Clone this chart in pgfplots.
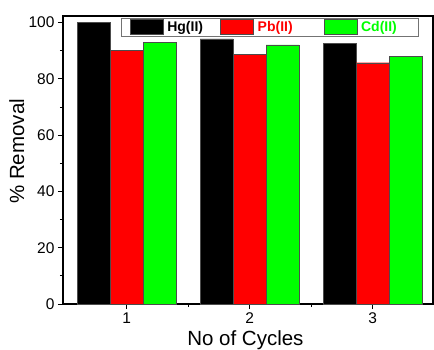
\documentclass[border=0pt]{standalone}
\usepackage{pgfplots}
\pgfplotsset{compat=1.18}
\usepackage{fontspec}
\setmainfont{Liberation Sans}
\definecolor{mygreen}{RGB}{0,255,0}
\definecolor{myred}{RGB}{255,0,0}
\begin{document}
\begin{tikzpicture}
\useasboundingbox (-63pt,-45pt) rectangle (371pt,304pt);
\begin{axis}[
  at={(0,0)}, anchor=south west,
  scale only axis, width=370pt, height=288pt,
  xmin=0.482, xmax=3.49, ymin=0, ymax=102.3,
  ybar=0pt, bar width=33pt,
  xtick={1,2,3}, minor xtick={1.5,2.5},
  ytick={0,20,40,60,80,100}, minor ytick={10,30,50,70,90},
  tick align=outside, xtick pos=left, ytick pos=left,
  major tick length=5pt, minor tick length=3pt,
  tick style={black, line width=0.8pt},
  axis line style={line width=1.1pt},
  /pgf/number format/assume math mode=true,
  ticklabel style={font=\fontsize{15.5}{18}\selectfont},
  xlabel={No of Cycles}, ylabel={\% Removal},
  label style={font=\fontsize{20.5}{23}\selectfont},
  xlabel style={at={(axis description cs:0.493,-0.125)}, anchor=center},
  ylabel style={at={(axis description cs:-0.125,0.53)}, anchor=center},
  legend columns=3,
  legend style={at={(axis description cs:0.156,0.993)}, anchor=north west,
    draw=black!55, inner xsep=9pt, inner ysep=1pt, font=\bfseries\fontsize{14}{16}\selectfont,
    /tikz/every odd column/.append style={column sep=2pt},
    /tikz/every even column/.append style={column sep=0pt}},
  legend image code/.code={\draw[#1] (0pt,-7.5pt) rectangle (33pt,7.5pt);},
]
\addplot[fill=black, draw=black!70] coordinates {(1,100) (2,94.2) (3,92.7)};
\addlegendentry{\makebox[51pt][l]{Hg(II)}}
\addplot[fill=myred, draw=black!70] coordinates {(1,90.0) (2,88.7) (3,85.7)};
\addlegendentry{\makebox[64pt][l]{\textcolor{myred}{Pb(II)}}}
\addplot[fill=mygreen, draw=black!70] coordinates {(1,92.9) (2,92.0) (3,88.0)};
\addlegendentry{\makebox[46pt][l]{\textcolor{mygreen}{Cd(II)}}}
\end{axis}
\end{tikzpicture}
\end{document}
